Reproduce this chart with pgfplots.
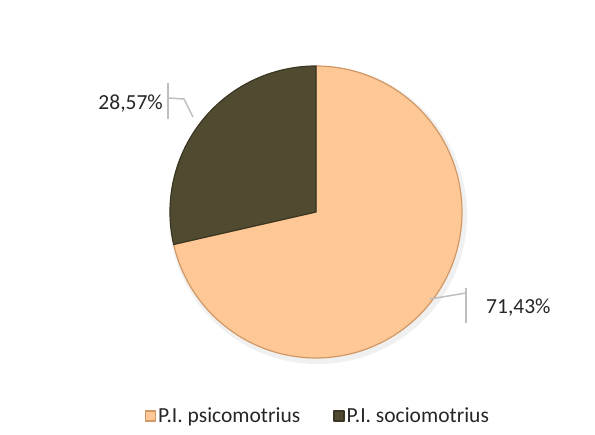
\documentclass[border=0pt]{standalone}
\usepackage{pgfplots}
\pgfplotsset{compat=1.18}
\usepackage{fontspec}
\setmainfont{Carlito}
\definecolor{peach}{HTML}{FEC896}
\definecolor{peachedge}{HTML}{CF9866}
\definecolor{olivefill}{HTML}{504B30}
\definecolor{oliveedge}{HTML}{3A3622}
\definecolor{leader}{HTML}{BFBFBF}
\definecolor{txt}{HTML}{262626}
\begin{document}
\begin{tikzpicture}
\path[use as bounding box] (0,0) rectangle (595bp,435bp);
\pgfmathsetmacro{\vA}{71.43}
\pgfmathsetmacro{\vB}{28.57}
\pgfmathsetmacro{\aStart}{90-3.6*\vA}
\pgfmathsetmacro{\bEnd}{90+3.6*\vB}
\begin{axis}[
  at={(0,0)}, anchor=south west, scale only axis,
  width=595bp, height=435bp,
  xmin=0, xmax=595, ymin=0, ymax=435,
  hide axis, clip=false,
  legend columns=2,
  legend style={draw=none, fill=none, at={(axis cs:145,19)}, anchor=west,
    inner sep=0pt, outer sep=0pt,
    font=\fontsize{21.5bp}{24bp}\selectfont\color{txt},
    /tikz/every odd column/.append style={column sep=0bp},
    /tikz/every even column/.append style={column sep=31bp}},
  legend image code/.code={\fill[#1] (0bp,-5bp) rectangle (10bp,5bp);},
]
% soft shadow
\fill[black, opacity=0.06] (axis cs:318,220) circle[radius=149bp];
\addplot[fill=peach, draw=peachedge, line width=1.2bp, line join=round,
  domain=\aStart:90, samples=160, variable=\t]
  ({316+146*cos(\t)},{223+146*sin(\t)}) -- (axis cs:316,223) -- cycle;
\addlegendentry{P.I. psicomotrius}
\addplot[fill=olivefill, draw=oliveedge, line width=1.2bp, line join=round,
  domain=90:\bEnd, samples=80, variable=\t]
  ({316+146*cos(\t)},{223+146*sin(\t)}) -- (axis cs:316,223) -- cycle;
\addlegendentry{P.I. sociomotrius}
% leader lines
\draw[leader, line width=1.5bp] (axis cs:168,352) -- (axis cs:168,316);
\draw[leader, line width=1.5bp] (axis cs:168,337) -- (axis cs:184,336) -- (axis cs:193,318);
\draw[leader, line width=1.5bp] (axis cs:466,147) -- (axis cs:466,112);
\draw[leader, line width=1.5bp] (axis cs:466,142) -- (axis cs:430,136);
% labels
\node[anchor=base east, inner sep=0pt, text=txt, font=\fontsize{21.5bp}{24bp}\selectfont] at (axis cs:163,325) {28,57\%};
\node[anchor=base west, inner sep=0pt, text=txt, font=\fontsize{21.5bp}{24bp}\selectfont] at (axis cs:486,121) {71,43\%};
\end{axis}
\end{tikzpicture}
\end{document}
